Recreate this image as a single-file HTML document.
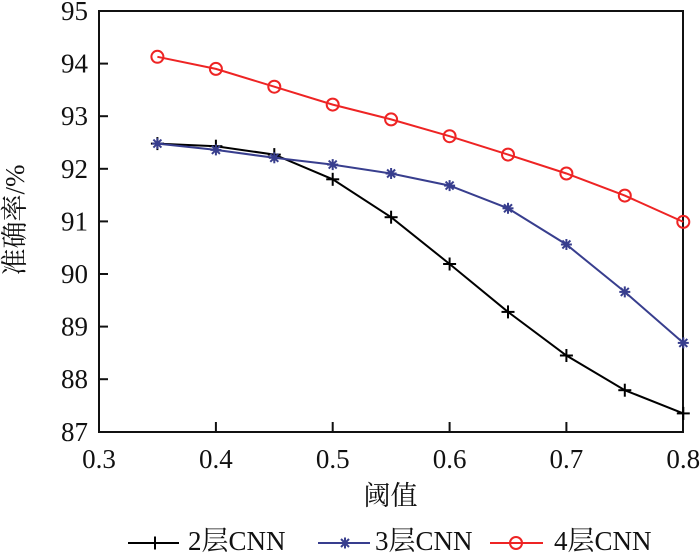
<!DOCTYPE html>
<html>
<head>
<meta charset="utf-8">
<style>
  html, body { margin: 0; padding: 0; background: #fff; }
  svg { display: block; }
  text { font-family: "Liberation Serif", "Noto Serif CJK SC", "Noto Sans CJK SC", serif; fill: #111; }
</style>
</head>
<body>
<svg width="700" height="555" viewBox="0 0 700 555" xmlns="http://www.w3.org/2000/svg">
  <defs>
    <g id="plus">
      <line x1="-6.5" y1="0" x2="6.5" y2="0" stroke="#000" stroke-width="2"/>
      <line x1="0" y1="-6.5" x2="0" y2="6.5" stroke="#000" stroke-width="2"/>
    </g>
    <g id="star" stroke="#383e8e" stroke-width="2">
      <line x1="-5.5" y1="0" x2="5.5" y2="0"/>
      <line x1="0" y1="-5.5" x2="0" y2="5.5"/>
      <line x1="-4" y1="-4" x2="4" y2="4"/>
      <line x1="-4" y1="4" x2="4" y2="-4"/>
    </g>
    <circle id="circ" r="6" fill="none" stroke="#ee2424" stroke-width="2"/>
  </defs>

  <!-- axes box -->
  <rect x="99" y="11" width="584" height="421" fill="none" stroke="#111" stroke-width="2"/>
  <!-- bottom ticks -->
  <g stroke="#111" stroke-width="2">
    <line x1="215.9" y1="432" x2="215.9" y2="422"/>
    <line x1="332.7" y1="432" x2="332.7" y2="422"/>
    <line x1="449.6" y1="432" x2="449.6" y2="422"/>
    <line x1="566.4" y1="432" x2="566.4" y2="422"/>
    <!-- left ticks -->
    <line x1="99" y1="63.6" x2="108" y2="63.6"/>
    <line x1="99" y1="116.2" x2="108" y2="116.2"/>
    <line x1="99" y1="168.8" x2="108" y2="168.8"/>
    <line x1="99" y1="221.4" x2="108" y2="221.4"/>
    <line x1="99" y1="274" x2="108" y2="274"/>
    <line x1="99" y1="326.6" x2="108" y2="326.6"/>
    <line x1="99" y1="379.2" x2="108" y2="379.2"/>
  </g>

  <!-- y tick labels -->
  <g font-size="27" text-anchor="end">
    <text x="88" y="20">95</text>
    <text x="88" y="72.6">94</text>
    <text x="88" y="125.2">93</text>
    <text x="88" y="177.8">92</text>
    <text x="88" y="230.4">91</text>
    <text x="88" y="283">90</text>
    <text x="88" y="335.6">89</text>
    <text x="88" y="388.2">88</text>
    <text x="88" y="440.8">87</text>
  </g>
  <!-- x tick labels -->
  <g font-size="27" text-anchor="middle">
    <text x="99" y="468">0.3</text>
    <text x="215.9" y="468">0.4</text>
    <text x="332.7" y="468">0.5</text>
    <text x="449.6" y="468">0.6</text>
    <text x="566.4" y="468">0.7</text>
    <text x="683.3" y="468">0.8</text>
  </g>

  <!-- axis titles -->
  <text x="390.5" y="505" font-size="27" text-anchor="middle">阈值</text>
  <text transform="translate(24,220) rotate(-90)" font-size="27" text-anchor="middle">准确率/%</text>

  <!-- series 2层 -->
  <polyline fill="none" stroke="#000" stroke-width="2" points="157.4,143.6 215.9,146.2 274.3,154.6 332.7,179.3 391.1,217.2 449.6,264.0 508.0,311.9 566.4,355.5 624.8,390.2 683.3,413.4"/>
  <use href="#plus" x="157.4" y="143.6"/>
  <use href="#plus" x="215.9" y="146.2"/>
  <use href="#plus" x="274.3" y="154.6"/>
  <use href="#plus" x="332.7" y="179.3"/>
  <use href="#plus" x="391.1" y="217.2"/>
  <use href="#plus" x="449.6" y="264.0"/>
  <use href="#plus" x="508.0" y="311.9"/>
  <use href="#plus" x="566.4" y="355.5"/>
  <use href="#plus" x="624.8" y="390.2"/>
  <use href="#plus" x="683.3" y="413.4"/>

  <!-- series 3层 -->
  <polyline fill="none" stroke="#383e8e" stroke-width="2" points="157.4,143.6 215.9,149.9 274.3,157.8 332.7,164.6 391.1,173.5 449.6,185.6 508.0,208.3 566.4,244.5 624.8,291.9 683.3,342.9"/>
  <use href="#star" x="157.4" y="143.6"/>
  <use href="#star" x="215.9" y="149.9"/>
  <use href="#star" x="274.3" y="157.8"/>
  <use href="#star" x="332.7" y="164.6"/>
  <use href="#star" x="391.1" y="173.5"/>
  <use href="#star" x="449.6" y="185.6"/>
  <use href="#star" x="508.0" y="208.3"/>
  <use href="#star" x="566.4" y="244.5"/>
  <use href="#star" x="624.8" y="291.9"/>
  <use href="#star" x="683.3" y="342.9"/>

  <!-- series 4层 -->
  <polyline fill="none" stroke="#ee2424" stroke-width="2" points="157.4,56.8 215.9,68.9 274.3,86.7 332.7,104.6 391.1,119.4 449.6,136.2 508.0,154.6 566.4,173.5 624.8,195.6 683.3,221.9"/>
  <use href="#circ" x="157.4" y="56.8"/>
  <use href="#circ" x="215.9" y="68.9"/>
  <use href="#circ" x="274.3" y="86.7"/>
  <use href="#circ" x="332.7" y="104.6"/>
  <use href="#circ" x="391.1" y="119.4"/>
  <use href="#circ" x="449.6" y="136.2"/>
  <use href="#circ" x="508.0" y="154.6"/>
  <use href="#circ" x="566.4" y="173.5"/>
  <use href="#circ" x="624.8" y="195.6"/>
  <use href="#circ" x="683.3" y="221.9"/>

  <!-- legend -->
  <line x1="128" y1="543" x2="179" y2="543" stroke="#000" stroke-width="2"/>
  <use href="#plus" x="155" y="543"/>
  <text x="188" y="550" font-size="27">2层CNN</text>

  <line x1="318" y1="543" x2="370" y2="543" stroke="#383e8e" stroke-width="2"/>
  <use href="#star" x="345" y="543"/>
  <text x="375" y="550" font-size="27">3层CNN</text>

  <line x1="490" y1="543" x2="543" y2="543" stroke="#ee2424" stroke-width="2"/>
  <use href="#circ" x="516" y="543"/>
  <text x="554" y="550" font-size="27">4层CNN</text>
</svg>
</body>
</html>
